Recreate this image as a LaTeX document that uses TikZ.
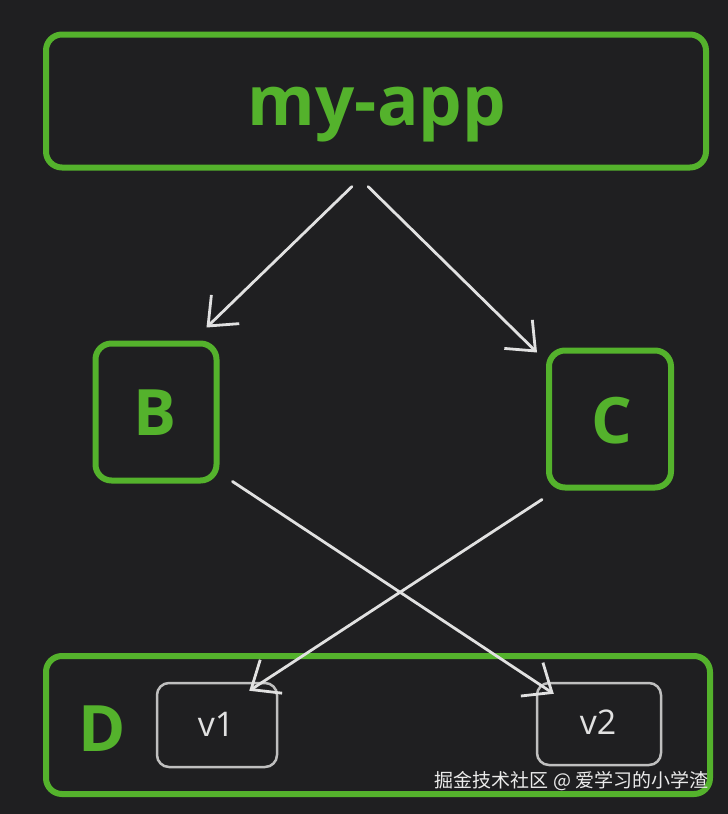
\documentclass[tikz,border=0pt]{standalone}
\usepackage{fontspec}
\setmainfont{Open Sans}
\newfontfamily\cjk{Noto Sans CJK SC}
\usetikzlibrary{arrows.meta}
\definecolor{bg}{RGB}{31,31,33}
\definecolor{gr}{RGB}{84,178,44}
\definecolor{wh}{RGB}{225,225,225}
\tikzset{
  gbox/.style={draw=gr, line width=6pt, rounded corners=16pt, inner sep=0pt},
  wbox/.style={draw=wh!85!black, line width=2.5pt, rounded corners=12pt, inner sep=0pt},
  glabel/.style={text=gr, font=\fontsize{64}{64}\selectfont\bfseries},
  wlabel/.style={text=wh, font=\fontsize{34}{34}\selectfont},
  arr/.style={draw=wh, line width=2.8pt, line cap=round, -{Straight Barb[length=24pt,width=40pt,line width=2.8pt]}}
}
\begin{document}
\begin{tikzpicture}[x=1pt,y=-1pt]
\fill[bg] (0,0) rectangle (728,814);
\useasboundingbox (0,0) rectangle (728,814);
% boxes
\node[gbox, minimum width=660pt, minimum height=133pt] (app) at (376,101) {};
\node[glabel, font=\fontsize{69}{69}\selectfont\bfseries] (applabel) at (377,115) {my-app};
\node[gbox, minimum width=121pt, minimum height=137pt] (B) at (156,412) {};
\node[glabel] (Blabel) at (155,413) {B};
\node[gbox, minimum width=122pt, minimum height=137pt] (C) at (610,419) {};
\node[glabel] (Clabel) at (612,421) {C};
\node[gbox, minimum width=664pt, minimum height=138pt] (dbox) at (378,725) {};
\node[glabel] (Dlabel) at (102,729) {D};
\node[wbox, minimum width=120pt, minimum height=84pt] (v1) at (217,725) {};
\node[wlabel] (v1label) at (216,724) {v1};
\node[wbox, minimum width=124pt, minimum height=82pt] (v2) at (599,724) {};
\node[wlabel] (v2label) at (598,722) {v2};
% arrows
\draw[arr] ([xshift=-24pt,yshift=-16pt]app.south) -- ([xshift=-13pt,yshift=13pt]B.north east);
\draw[arr] ([xshift=-8pt,yshift=-16pt]app.south) -- ([xshift=-9pt,yshift=-5pt]C.north west);
\draw[arr] ([xshift=13pt,yshift=2pt]B.south east) -- ([xshift=18pt,yshift=-12pt]v2.north west);
\draw[arr] ([xshift=-4pt,yshift=-9pt]C.south west) -- ([xshift=-29pt,yshift=-9pt]v1.north east);
% watermark
\node[text=white!92!black, font=\cjk\fontsize{19}{19}\selectfont, anchor=east] (wm) at (712,781) {掘金技术社区 @ 爱学习的小学渣};
\end{tikzpicture}
\end{document}
